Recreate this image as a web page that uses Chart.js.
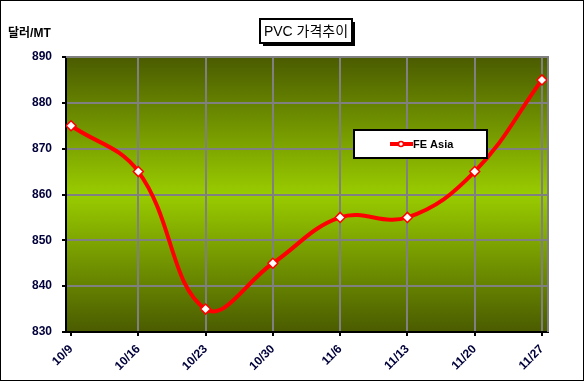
<!DOCTYPE html>
<html>
<head>
<meta charset="utf-8">
<script src="https://cdn.jsdelivr.net/npm/chart.js@4"></script>
<style>
  html,body{margin:0;padding:0;background:#fff;}
  #wrap{width:584px;height:381px;}
</style>
</head>
<body>
<div id="wrap"><canvas id="c" width="584" height="381"></canvas></div>
<script>
const dates = ["10/9","10/16","10/23","10/30","11/6","11/13","11/20","11/27"];
const feAsia = [875, 865, 835, 845, 855, 855, 865, 885];
const yTicks = [830, 840, 850, 860, 870, 880, 890];
const seriesName = "FE Asia";
const chartTitle = "PVC 가격추이";
const yUnit = "달러/MT";

const FONT = "'Liberation Sans', 'Noto Sans CJK KR', Arial, sans-serif";

// plot background, title box, unit label, legend box and outer frame
const decor = {
  id: "decor",
  beforeDraw(chart){
    const {ctx, chartArea:a} = chart;
    const g = ctx.createLinearGradient(0, a.top, 0, a.bottom);
    g.addColorStop(0, "#4a5b00");
    g.addColorStop(0.5, "#99cc00");
    g.addColorStop(1, "#4a5b00");
    ctx.save();
    ctx.fillStyle = g;
    ctx.fillRect(a.left, a.top, a.right - a.left, a.bottom - a.top);
    ctx.restore();
  },
  afterDraw(chart){
    const {ctx, chartArea:a} = chart;
    ctx.save();
    // plot border top/right
    ctx.strokeStyle = "#808080"; ctx.lineWidth = 2;
    ctx.beginPath();
    ctx.moveTo(a.left, a.top); ctx.lineTo(a.right, a.top); ctx.lineTo(a.right, a.bottom);
    ctx.stroke();

    // title box with shadow
    ctx.fillStyle = "#000";
    ctx.fillRect(263, 22, 92, 24);
    ctx.fillStyle = "#fff";
    ctx.fillRect(260, 19, 92, 24);
    ctx.strokeStyle = "#000"; ctx.lineWidth = 2;
    ctx.strokeRect(260, 19, 92, 24);
    ctx.fillStyle = "#000";
    ctx.font = "14px " + FONT;
    ctx.textAlign = "center"; ctx.textBaseline = "middle";
    ctx.fillText(chartTitle, 306, 32);

    // unit label
    ctx.font = "bold 12px " + FONT;
    ctx.textAlign = "left";
    ctx.fillText(yUnit, 8, 34);

    // legend
    const ds = chart.data.datasets[0];
    ctx.fillStyle = "#fff";
    ctx.fillRect(354, 130, 133, 28);
    ctx.strokeStyle = "#000"; ctx.lineWidth = 2;
    ctx.strokeRect(354, 130, 133, 28);
    ctx.strokeStyle = ds.borderColor; ctx.lineWidth = 4;
    ctx.beginPath(); ctx.moveTo(390, 144); ctx.lineTo(413, 144); ctx.stroke();
    ctx.fillStyle = "#fff"; ctx.strokeStyle = ds.borderColor; ctx.lineWidth = 1.5;
    ctx.beginPath(); ctx.arc(401, 144, 2.5, 0, Math.PI*2); ctx.fill(); ctx.stroke();
    ctx.fillStyle = "#000";
    ctx.font = "bold 11px " + FONT;
    ctx.textAlign = "left";
    ctx.fillText(ds.label, 413, 145);

    // outer frame
    ctx.strokeStyle = "#000"; ctx.lineWidth = 1;
    ctx.strokeRect(0.5, 0.5, 583, 380);
    ctx.restore();
  }
};

new Chart(document.getElementById("c"), {
  type: "line",
  data: {
    datasets: [{
      label: seriesName,
      data: feAsia.map((v,i)=>({x:i, y:v})),
      borderColor: "#ff0000",
      borderWidth: 4,
      tension: 0.4,
      pointStyle: "rectRot",
      pointRadius: 5,
      pointBackgroundColor: "#fff",
      pointBorderColor: "#ff0000",
      pointBorderWidth: 1.5
    }]
  },
  options: {
    responsive: false,
    animation: false,
    layout: { padding: { top: 57, right: 36, left: 0, bottom: 0 } },
    plugins: { legend: { display: false }, title: { display: false }, tooltip: { enabled: false } },
    scales: {
      x: {
        type: "linear",
        min: -0.075, max: 7.09,
        afterBuildTicks: s => { s.ticks = dates.map((_, i) => ({ value: i })); },
        afterFit: s => { s.height = 49; },
        ticks: {
          callback: v => dates[v],
          autoSkip: false,
          minRotation: 45, maxRotation: 45,
          color: "#00003a",
          font: { family: FONT, size: 12, weight: "bold" },
          padding: 6
        },
        grid: {
          color: c => c.index === 0 ? "rgba(0,0,0,0)" : "#808080",
          lineWidth: 2, tickColor: "#000", tickLength: 4
        },
        border: { color: "#000", width: 2 }
      },
      y: {
        min: 830, max: 890,
        afterBuildTicks: s => { s.ticks = yTicks.map(v => ({ value: v })); },
        afterFit: s => { s.width = 66; },
        ticks: {
          color: "#00003a",
          font: { family: FONT, size: 12, weight: "bold" },
          padding: 10
        },
        grid: { color: "#808080", lineWidth: 2, tickColor: "#000", tickLength: 4 },
        border: { color: "#000", width: 2 }
      }
    }
  },
  plugins: [decor]
});
</script>
</body>
</html>
